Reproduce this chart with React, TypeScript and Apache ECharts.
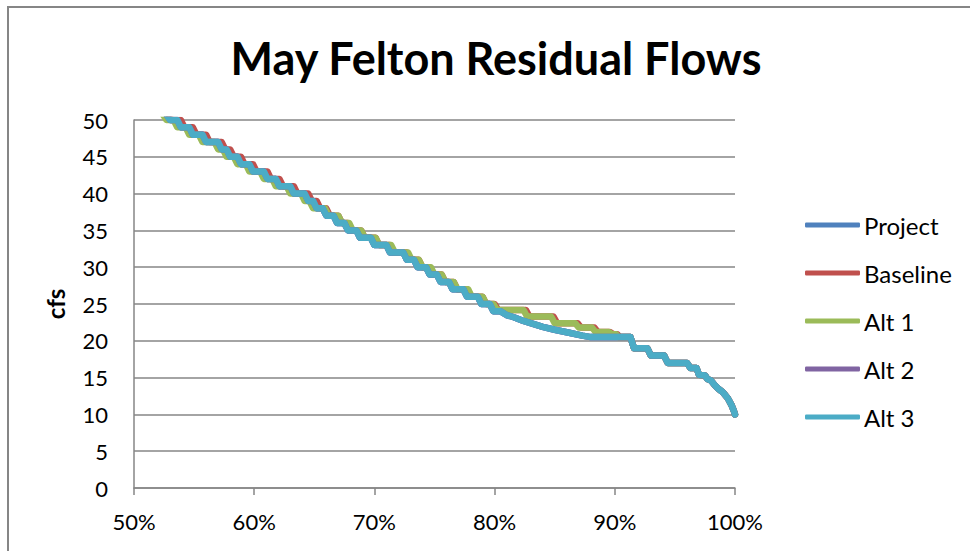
import { useEffect, useRef } from 'react';
import * as echarts from 'echarts';

// Exceedance (%) vs flow (cfs): [exceedance %, cfs] points along each duration curve.
const seriesNames = ['Project', 'Baseline', 'Alt 1', 'Alt 2', 'Alt 3'];
const seriesColors = ['#4F81BD', '#C0504D', '#9BBB59', '#8064A2', '#4BACC6'];
const xTickValues = [50, 60, 70, 80, 90, 100];
const yTickValues = [0, 5, 10, 15, 20, 25, 30, 35, 40, 45, 50];

// Project, Alt 2 and Alt 3 lie on top of each other in the picture
const sharedUpper: [number, number][] = [
  [52.0, 51], [52.6, 51], [53.0, 50], [53.6, 50], [53.9, 49], [54.6, 49],
  [54.9, 48], [55.7, 48], [56.0, 47], [57.0, 47], [57.3, 46], [57.7, 46],
  [58.0, 45], [58.6, 45], [58.9, 44], [59.6, 44], [59.9, 43], [60.8, 43],
  [61.1, 42], [61.8, 42], [62.1, 41], [63.0, 41], [63.3, 40], [64.2, 40],
  [64.5, 39], [64.9, 39], [65.2, 38], [65.7, 38], [66.0, 37], [66.6, 37],
  [66.9, 36], [67.5, 36], [67.8, 35], [68.5, 35], [68.8, 34], [69.7, 34],
  [70.0, 33], [71.0, 33], [71.3, 32], [72.4, 32], [72.7, 31], [73.3, 31],
  [73.6, 30], [74.3, 30], [74.6, 29], [75.2, 29], [75.5, 28], [76.2, 28],
  [76.5, 27], [77.4, 27], [77.7, 26], [78.6, 26], [78.9, 25], [79.6, 25],
  [79.9, 24], [80.5, 24], [81.0, 23.5], [81.6, 23.2], [82.4, 22.7], [83.2, 22.3],
  [84.0, 21.9], [85.0, 21.5], [86.2, 21.1], [87.3, 20.7], [88.0, 20.5],
];

const baselineUpper: [number, number][] = [
  [52.1, 51], [52.8, 51], [53.1, 50], [53.9, 50], [54.2, 49], [54.9, 49],
  [55.2, 48], [56.0, 48], [56.3, 47], [57.3, 47], [57.6, 46], [58.0, 46],
  [58.3, 45], [58.9, 45], [59.2, 44], [59.9, 44], [60.2, 43], [61.1, 43],
  [61.4, 42], [62.1, 42], [62.4, 41], [63.3, 41], [63.6, 40], [64.5, 40],
  [64.8, 39], [65.2, 39], [65.5, 38], [66.0, 38], [66.3, 37], [67.0, 37],
  [67.3, 36], [67.8, 36], [68.1, 35], [68.9, 35], [69.2, 34], [70.1, 34],
  [70.4, 33], [71.3, 33], [71.6, 32], [72.7, 32], [73.0, 31], [73.7, 31],
  [74.0, 30], [74.6, 30], [74.9, 29], [75.6, 29], [75.9, 28], [76.6, 28],
  [76.9, 27], [77.7, 27], [78.0, 26], [79.0, 26], [79.3, 25], [80.0, 25],
  [80.3, 24.2], [82.6, 24.2], [82.9, 23.3], [84.9, 23.3], [85.2, 22.4], [86.9, 22.4],
  [87.2, 21.8], [88.3, 21.8], [88.6, 21.2], [89.6, 21.2], [89.9, 20.9], [90.2, 20.9],
  [90.4, 20.5],
];

const alt1Upper: [number, number][] = [
  [51.7, 51], [52.3, 51], [52.7, 50], [53.3, 50], [53.6, 49], [54.3, 49],
  [54.6, 48], [55.4, 48], [55.7, 47], [56.7, 47], [57.0, 46], [57.4, 46],
  [57.7, 45], [58.3, 45], [58.6, 44], [59.3, 44], [59.6, 43], [60.5, 43],
  [60.8, 42], [61.5, 42], [61.8, 41], [62.7, 41], [63.0, 40], [63.9, 40],
  [64.2, 39], [64.6, 39], [64.9, 38], [65.9, 38], [66.2, 37], [67.0, 37],
  [67.3, 36], [67.9, 36], [68.2, 35], [68.9, 35], [69.2, 34], [70.1, 34],
  [70.4, 33], [71.4, 33], [71.7, 32], [72.8, 32], [73.1, 31], [73.7, 31],
  [74.0, 30], [74.7, 30], [75.0, 29], [75.6, 29], [75.9, 28], [76.6, 28],
  [76.9, 27], [77.8, 27], [78.1, 26], [79.0, 26], [79.3, 25], [79.9, 25],
  [80.2, 24.2], [82.4, 24.2], [82.7, 23.3], [84.7, 23.3], [85.0, 22.4], [86.7, 22.4],
  [87.0, 21.8], [88.1, 21.8], [88.4, 21.2], [89.5, 21.2], [89.8, 20.9], [90.1, 20.9],
  [90.3, 20.5],
];

// All five curves coincide beyond about 90%
const commonTail: [number, number][] = [
  [91.3, 20.5], [91.6, 19.0], [92.7, 19.0], [93.0, 18.0], [94.1, 18.0], [94.4, 17.0],
  [96.0, 17.0], [96.3, 16.3], [96.8, 16.3], [97.0, 15.4], [97.5, 15.3], [97.7, 14.8],
  [98.0, 14.6], [98.3, 14.0], [98.6, 13.5], [99.0, 13.0], [99.4, 12.2], [99.7, 11.3],
  [99.9, 10.5], [100, 10],
];

const seriesData: [number, number][][] = [
  [...sharedUpper, ...commonTail],
  [...baselineUpper, ...commonTail],
  [...alt1Upper, ...commonTail],
  [...sharedUpper, ...commonTail],
  [...sharedUpper, ...commonTail],
];

const FONT = 'Lato, "Open Sans", sans-serif';
const GRID_GRAY = '#868686';

export default function App() {
  const ref = useRef<HTMLDivElement>(null);

  useEffect(() => {
    if (!ref.current) return;
    const chart = echarts.init(ref.current, null, { renderer: 'svg' });
    chart.setOption({
      animation: false,
      backgroundColor: '#ffffff',
      textStyle: { fontFamily: FONT },
      graphic: [
        {
          type: 'rect',
          shape: { x: 8, y: 7, width: 1200, height: 800 },
          style: { fill: 'none', stroke: GRID_GRAY, lineWidth: 2 },
          silent: true,
          z: -1,
        },
        {
          type: 'text',
          x: 496,
          y: 35,
          style: {
            text: 'May Felton Residual Flows',
            fontFamily: FONT,
            fontSize: 45,
            fontWeight: 'bold',
            fill: '#000',
            align: 'center',
            verticalAlign: 'top',
            textAlign: 'center',
            textVerticalAlign: 'top',
          },
        },
      ],
      legend: {
        orient: 'vertical',
        left: 800,
        top: 208,
        itemWidth: 55,
        itemHeight: 5,
        itemGap: 24,
        icon: 'roundRect',
        data: seriesNames,
        textStyle: { fontFamily: FONT, fontSize: 24, color: '#000', padding: [0, 0, 0, -1] },
      },
      grid: { left: 134, right: 235, top: 120, bottom: 63, containLabel: false },
      xAxis: {
        type: 'value',
        min: xTickValues[0],
        max: xTickValues[xTickValues.length - 1],
        interval: xTickValues[1] - xTickValues[0],
        axisLine: { show: true, lineStyle: { color: GRID_GRAY, width: 1.5 } },
        axisTick: { show: true, length: 7, lineStyle: { color: GRID_GRAY, width: 1.5 } },
        splitLine: { show: false },
        axisLabel: {
          formatter: '{value}%',
          fontFamily: FONT,
          fontSize: 22,
          color: '#000',
          margin: 22,
        },
      },
      yAxis: {
        type: 'value',
        min: yTickValues[0],
        max: yTickValues[yTickValues.length - 1],
        interval: yTickValues[1] - yTickValues[0],
        name: 'cfs',
        nameLocation: 'middle',
        nameGap: 67,
        nameRotate: 90,
        nameTextStyle: { fontFamily: FONT, fontSize: 24, fontWeight: 'bold', color: '#000' },
        axisLine: { show: true, lineStyle: { color: GRID_GRAY, width: 1.5 } },
        axisTick: { show: false },
        splitLine: { show: true, lineStyle: { color: GRID_GRAY, width: 1.5 } },
        axisLabel: { fontFamily: FONT, fontSize: 22, color: '#000', margin: 26 },
      },
      series: seriesNames.map((name, i) => ({
        name,
        type: 'line',
        symbol: 'none',
        clip: true,
        color: seriesColors[i],
        lineStyle: { width: 6.5, color: seriesColors[i], cap: 'round', join: 'round' },
        data: seriesData[i],
        z: 2 + i,
      })),
    });
    return () => chart.dispose();
  }, []);

  return (
    <div
      ref={ref}
      style={{ position: 'fixed', left: 0, top: 0, width: 970, height: 551 }}
    />
  );
}
